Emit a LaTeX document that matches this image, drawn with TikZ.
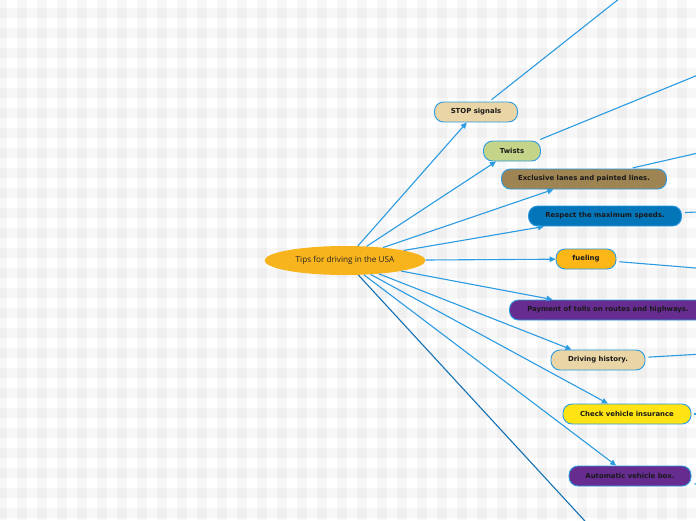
\documentclass[tikz,border=0pt]{standalone}
\usepackage{fontspec}
\usepackage{xcolor}
\usepackage{tikz}
\usetikzlibrary{shapes.geometric, arrows.meta, positioning}
\newfontfamily\hubfont{Open Sans}
\newfontfamily\leaffont{DejaVu Sans}
\definecolor{linkblue}{HTML}{2B9BE2}
\definecolor{deeplink}{HTML}{1271B3}
\definecolor{hubfill}{HTML}{F8B41C}
\definecolor{sandfill}{HTML}{EAD5A6}
\definecolor{sagefill}{HTML}{C4D58A}
\definecolor{earthfill}{HTML}{9D8452}
\definecolor{oceanfill}{HTML}{0375B9}
\definecolor{amberfill}{HTML}{FDB618}
\definecolor{plumfill}{HTML}{662C90}
\definecolor{lemonfill}{HTML}{FFE312}
\tikzset{
  hub/.style={ellipse, fill=hubfill, minimum width=161pt, minimum height=29pt, inner sep=0pt,
    font=\hubfont\fontsize{8.2}{10}\selectfont, text=black!85},
  leaf/.style={draw=linkblue, line width=0.9pt, rounded corners=9pt, minimum height=20pt,
    inner xsep=14pt, inner ysep=0pt, font=\leaffont\bfseries\fontsize{6.9}{8}\selectfont, text=black!90},
  sandleaf/.style={leaf, fill=sandfill},
  sageleaf/.style={leaf, fill=sagefill},
  earthleaf/.style={leaf, fill=earthfill},
  oceanleaf/.style={leaf, fill=oceanfill},
  amberleaf/.style={leaf, fill=amberfill},
  plumleaf/.style={leaf, fill=plumfill},
  lemonleaf/.style={leaf, fill=lemonfill},
  arrow/.style={-{Triangle[length=6pt,width=5.5pt]}, draw=linkblue, line width=1.1pt},
  stub/.style={draw=linkblue, line width=1.1pt, shorten <=3pt},
  check/.style={fill=black, opacity=0.03}
}

\begin{document}
\begin{tikzpicture}[x=1pt, y=-1pt]
  \useasboundingbox (0,0) rectangle (696,520);
  \clip (0,0) rectangle (696,520);
  \fill[white] (0,0) rectangle (696,520);
  % Background
  \foreach \x in {-3,17,...,697} \fill[check] (\x,0) rectangle +(10,520);
  \foreach \y in {8,28,...,508} \fill[check] (0,\y) rectangle +(696,10);

  % Nodes
  \node[hub] (tips) at (345,260.5) {Tips for driving in the USA};
  \node[sandleaf, minimum width=83pt] (stop) at (476,112) {STOP signals};
  \node[sageleaf, minimum width=57pt] (twists) at (512,151) {Twists};
  \node[earthleaf, minimum width=165pt] (lanes) at (584,179) {Exclusive lanes and painted lines.};
  \node[oceanleaf, minimum width=153pt] (speeds) at (605,216) {Respect the maximum speeds.};
  \node[amberleaf, minimum width=60pt] (fuel) at (586,259) {fueling};
  \node[plumleaf, minimum width=197pt] (tolls) at (608,310) {Payment of tolls on routes and highways.};
  \node[sandleaf, minimum width=94pt] (history) at (598,360) {Driving history.};
  \node[lemonleaf, minimum width=128pt] (insur) at (627,414) {Check vehicle insurance};
  \node[plumleaf, minimum width=122pt] (gearbox) at (630,476) {Automatic vehicle box.};

  % Ends beyond the frame
  \coordinate (stopnext) at (720,-81);
  \coordinate (twistsnext) at (720,66);
  \coordinate (lanesnext) at (720,148);
  \coordinate (speedsnext) at (720,211);
  \coordinate (fuelnext) at (720,270);
  \coordinate (historynext) at (720,353);
  \coordinate (insurnext) at (720,414);
  \coordinate (gearnext) at (720,487);
  \coordinate (lastnext) at (607,545);

  % Arrows
  \foreach \t in {stop, twists, lanes, speeds, fuel, tolls, history, insur, gearbox}
    \draw[arrow] (tips) -- (\t);
  \draw[deeplink, line width=1.1pt] (tips) -- (lastnext);
  \draw[stub] (stop) -- (stopnext);
  \draw[stub] (twists) -- (twistsnext);
  \draw[stub] (lanes) -- (lanesnext);
  \draw[stub] (speeds) -- (speedsnext);
  \draw[stub] (fuel) -- (fuelnext);
  \draw[stub] (history) -- (historynext);
  \draw[stub] (insur) -- (insurnext);
  \draw[stub] (gearbox) -- (gearnext);
\end{tikzpicture}
\end{document}
